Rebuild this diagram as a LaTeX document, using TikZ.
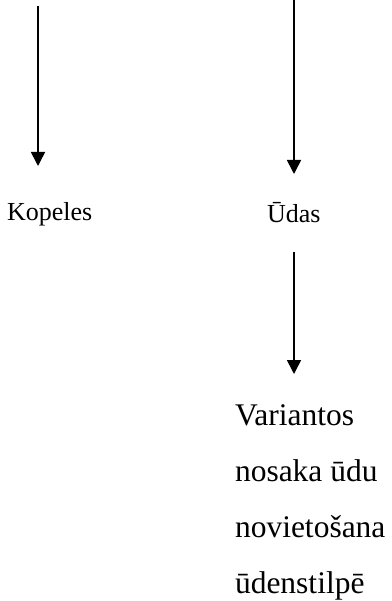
\documentclass[tikz,border=0pt]{standalone}
\usepackage{fontspec}
\setmainfont{Liberation Serif}
\usetikzlibrary{
    positioning,
    arrows.meta
}
\tikzset{%
    arrow/.style={%
        >={Triangle[length=14pt, width=14pt]},
        line width=1.6pt,
    },
    label text/.style={%
        anchor=base west,
        inner sep = 0pt,
        outer sep = 0pt,
        font=\fontsize{26}{31}\selectfont
    },
    note text/.style={%
        label text,
        align=left,
        font=\fontsize{31.5}{56}\selectfont
    },
}

\begin{document}
\begin{tikzpicture}[x=1pt, y=1pt]
    \useasboundingbox (0,0) rectangle (391,-601);

    \coordinate (top left) at (38,-6);
    \coordinate (tip left) at (38,-166);
    \coordinate (top right) at (294,0);
    \coordinate (tip right) at (294,-174);
    \coordinate (top lower) at (294,-252);
    \coordinate (tip lower) at (294,-374);

    \node[label text] (kopeles) at (7,-221) {Kopeles};
    \node[label text] (udas) at (267,-223) {Ūdas};

    % base anchor sits on the last line
    \node[note text] (variantos) at (235,-593) {Variantos\\nosaka ūdu\\novietošana\\ūdenstilpē};

    \draw[arrow, ->] (top left) to (tip left);
    \draw[arrow, ->] (top right) to (tip right);
    \draw[arrow, ->] (top lower) to (tip lower);
\end{tikzpicture}
\end{document}
